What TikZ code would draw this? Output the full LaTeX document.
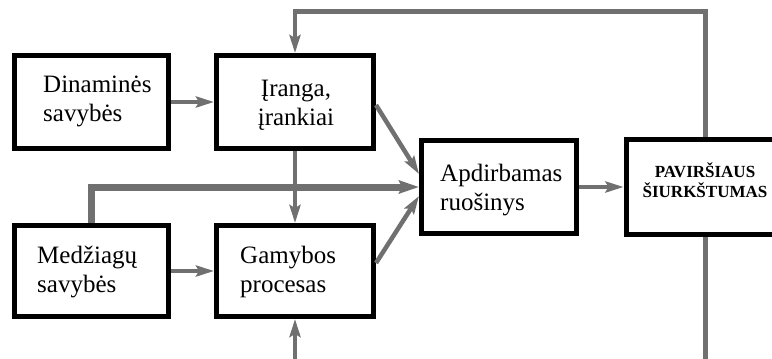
\documentclass[tikz,border=0pt]{standalone}
\usepackage{fontspec}
\setmainfont{Liberation Serif}
\usetikzlibrary{arrows.meta,calc}
\definecolor{linegray}{RGB}{112,112,112}
\tikzset{
  box/.style={draw=black, line width=5pt, fill=white, inner sep=0pt},
  txt/.style={inner sep=0pt, align=left, font=\fontsize{25}{29}\selectfont},
  ctxt/.style={inner sep=0pt, align=center, font=\fontsize{25}{29}\selectfont},
  btxt/.style={inner sep=0pt, align=center, font=\fontsize{17}{20}\selectfont\bfseries},
  lin/.style={draw=linegray, line width=4.5pt},
  arr/.style={lin, -{Stealth[length=18pt,width=11pt,inset=3pt]}},
  thickarr/.style={draw=linegray, line width=7pt, -{Stealth[length=20pt,width=13pt,inset=3pt]}}
}
\begin{document}
\begin{tikzpicture}[x=1pt,y=-1pt]
\useasboundingbox (0,0) rectangle (772,359);
% boxes
\node[box, minimum width=154pt, minimum height=93pt] (din) at (91.5,102) {};
\node[box, minimum width=157pt, minimum height=93pt] (ira) at (295,102) {};
\node[box, minimum width=154pt, minimum height=91pt] (med) at (91.5,271) {};
\node[box, minimum width=157pt, minimum height=91pt] (gam) at (295,271) {};
\node[box, minimum width=155pt, minimum height=93pt] (apd) at (499,187) {};
\node[box, minimum width=159pt, minimum height=95pt] (pav) at (705.5,187) {};
% texts (base anchor = baseline of the last line)
\node[txt, anchor=base west] (dint) at (43,121) {Dinaminės\\savybės};
\node[ctxt, anchor=base] (irat) at (296,125) {Įranga,\\įrankiai};
\node[txt, anchor=base west] (medt) at (37,292) {Medžiagų\\savybės};
\node[txt, anchor=base west] (gamt) at (240,292) {Gamybos\\procesas};
\node[txt, anchor=base west] (apdt) at (440,210) {Apdirbamas\\ruošinys};
\node[btxt, anchor=base] (pavt) at (705,197) {PAVIRŠIAUS\\ŠIURKŠTUMAS};
% free ends
\coordinate (fbtop) at (705.5,11.5);
\coordinate (pbot) at (705.5,362);
\coordinate (gbot) at (295,362);
% connectors
\draw[arr] (din.east) -- (ira.west);
\draw[arr] (med.east) -- (gam.west);
\draw[arr] (ira.south) -- (gam.north);
\draw[thickarr] (med.north) |- (apd.west);
\draw[arr] ($(ira.east)+(0,3)$) -- ($(apd.west)+(0,-13)$);
\draw[arr] ($(gam.east)+(0,-8)$) -- ($(apd.west)+(0,9)$);
\draw[arr] (apd.east) -- (pav.west);
\draw[arr] (pav.north) -- (fbtop) -| (ira.north);
\draw[lin] (pav.south) -- (pbot);
\draw[arr] (gbot) -- (gam.south);
\end{tikzpicture}
\end{document}
